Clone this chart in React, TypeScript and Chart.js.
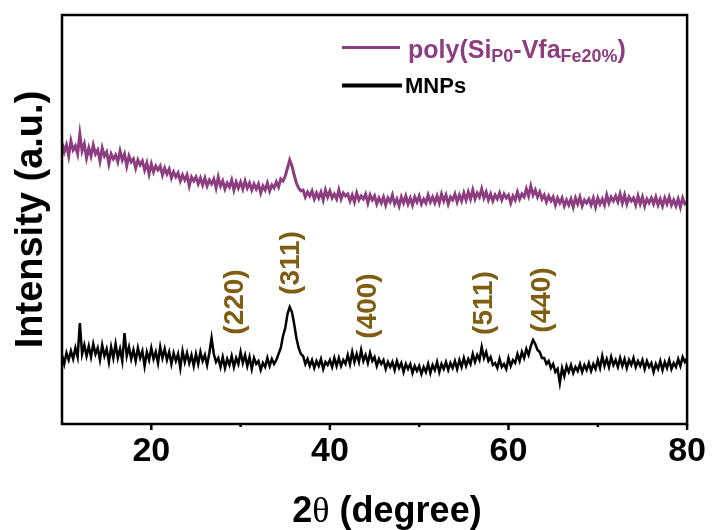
import React, { useEffect, useRef } from "react";
import { Chart, registerables } from "chart.js";

Chart.register(...registerables);

// 2θ sampling of both scans (degrees)
const TWO_THETA_START = 10;
const TWO_THETA_STEP = 0.25;

// poly(SiP0-VfaFe20%) intensity, one row per degree (10.00, 10.25, 10.50, 10.75)
const polyIntensity = [
  281, 272, 279, 268, // 10
  283, 274, 278, 270, // 11
  290, 273, 280, 266, // 12
  276, 268, 279, 270, // 13
  274, 263, 276, 268, // 14
  272, 260, 270, 265, // 15
  269, 262, 273, 264, // 16
  270, 258, 268, 262, // 17
  265, 256, 264, 259, // 18
  263, 254, 261, 250, // 19
  260, 252, 258, 254, // 20
  258, 249, 256, 250, // 21
  255, 246, 252, 247, // 22
  251, 243, 249, 244, // 23
  249, 238, 247, 243, // 24
  247, 240, 246, 239, // 25
  246, 238, 244, 240, // 26
  245, 236, 247, 238, // 27
  243, 235, 241, 237, // 28
  244, 234, 242, 236, // 29
  242, 235, 243, 236, // 30
  241, 234, 240, 235, // 31
  240, 231, 238, 234, // 32
  241, 233, 239, 236, // 33
  242, 237, 245, 243, // 34
  248, 256, 264, 258, // 35
  249, 241, 236, 233, // 36
  234, 227, 232, 228, // 37
  233, 225, 231, 226, // 38
  232, 224, 234, 227, // 39
  233, 226, 230, 225, // 40
  234, 225, 231, 228, // 41
  230, 223, 229, 222, // 42
  231, 224, 228, 225, // 43
  230, 221, 229, 224, // 44
  228, 220, 226, 221, // 45
  227, 219, 226, 222, // 46
  229, 220, 225, 218, // 47
  227, 221, 228, 220, // 48
  226, 219, 227, 222, // 49
  228, 220, 225, 221, // 50
  229, 222, 227, 221, // 51
  228, 221, 230, 223, // 52
  229, 220, 227, 224, // 53
  230, 222, 229, 223, // 54
  231, 224, 232, 225, // 55
  234, 225, 231, 227, // 56
  235, 226, 232, 224, // 57
  230, 223, 229, 225, // 58
  231, 224, 230, 226, // 59
  229, 221, 228, 224, // 60
  232, 225, 230, 227, // 61
  235, 228, 238, 229, // 62
  234, 227, 232, 225, // 63
  229, 222, 228, 223, // 64
  227, 219, 226, 221, // 65
  226, 218, 224, 219, // 66
  225, 217, 226, 220, // 67
  227, 218, 224, 221, // 68
  225, 219, 226, 217, // 69
  226, 220, 225, 219, // 70
  229, 221, 227, 223, // 71
  228, 222, 230, 221, // 72
  229, 220, 227, 223, // 73
  226, 219, 228, 220, // 74
  227, 218, 225, 221, // 75
  226, 220, 227, 219, // 76
  225, 218, 226, 220, // 77
  227, 219, 224, 218, // 78
  225, 217, 226, 220, // 79
  222,                // 80
];

// MNPs intensity on the same 2θ grid
const mnpIntensity = [
  69, 60, 71, 64,     // 10
  73, 65, 76, 67,     // 11
  101, 70, 79, 68,    // 12
  78, 67, 80, 70,     // 13
  76, 64, 79, 68,     // 14
  75, 62, 77, 66,     // 15
  80, 66, 75, 63,     // 16
  91, 68, 77, 65,     // 17
  74, 63, 76, 66,     // 18
  73, 58, 72, 64,     // 19
  76, 65, 72, 61,     // 20
  77, 66, 75, 64,     // 21
  72, 60, 71, 63,     // 22
  70, 56, 73, 62,     // 23
  71, 61, 69, 58,     // 24
  70, 60, 72, 63,     // 25
  69, 59, 71, 86,     // 26
  70, 62, 66, 57,     // 27
  67, 56, 65, 59,     // 28
  68, 57, 66, 60,     // 29
  72, 61, 69, 58,     // 30
  67, 55, 66, 60,     // 31
  63, 54, 61, 57,     // 32
  66, 58, 65, 60,     // 33
  64, 70, 76, 88,     // 34
  96, 110, 117, 112,  // 35
  100, 86, 76, 70,    // 36
  68, 60, 65, 58,     // 37
  64, 56, 63, 58,     // 38
  65, 55, 62, 59,     // 39
  64, 57, 66, 58,     // 40
  66, 58, 64, 60,     // 41
  69, 60, 72, 62,     // 42
  70, 62, 74, 63,     // 43
  69, 61, 71, 63,     // 44
  67, 58, 65, 60,     // 45
  64, 55, 62, 57,     // 46
  62, 54, 63, 56,     // 47
  61, 52, 60, 55,     // 48
  60, 51, 58, 53,     // 49
  58, 50, 57, 52,     // 50
  60, 51, 59, 54,     // 51
  62, 52, 60, 55,     // 52
  62, 54, 61, 56,     // 53
  63, 55, 64, 57,     // 54
  66, 58, 65, 60,     // 55
  70, 62, 69, 64,     // 56
  77, 66, 72, 63,     // 57
  67, 59, 61, 56,     // 58
  65, 57, 60, 55,     // 59
  66, 58, 64, 61,     // 60
  70, 63, 72, 66,     // 61
  75, 69, 78, 84,     // 62
  80, 74, 72, 66,     // 63
  66, 60, 63, 56,     // 64
  60, 52, 55, 41,     // 65
  56, 48, 58, 52,     // 66
  59, 51, 57, 53,     // 67
  60, 52, 59, 54,     // 68
  61, 53, 60, 55,     // 69
  64, 56, 68, 58,     // 70
  65, 57, 67, 59,     // 71
  64, 57, 66, 58,     // 72
  65, 56, 64, 59,     // 73
  66, 57, 63, 58,     // 74
  64, 55, 63, 57,     // 75
  61, 52, 60, 55,     // 76
  63, 54, 62, 56,     // 77
  64, 55, 61, 57,     // 78
  65, 58, 67, 62,     // 79
  66,                 // 80
];

// Axis ticks
const MAJOR_TICKS = [20, 40, 60, 80];
const MINOR_TICKS = [30, 50, 70];

// Spinel (hkl) reflections of the MNPs
const PLANES = ["(220)", "(311)", "(400)", "(511)", "(440)"];
const PLANE_2THETA = [29.45, 35.65, 44.3, 57.3, 63.8];
const PLANE_LABEL_Y = [122, 161, 118, 121, 124];

const PURPLE = "#8C3E80";
const GOLD = "#7F5E12";
const FONT = '"Liberation Sans", Arial, sans-serif';
const SERIF = '"Liberation Serif", "Times New Roman", serif';

const toPoints = (vals: number[]) =>
  vals.map((v, i) => ({ x: TWO_THETA_START + i * TWO_THETA_STEP, y: v }));

const decorPlugin = {
  id: "xrdDecor",
  afterDatasetsDraw(chart: any) {
    const { ctx, chartArea: a, scales } = chart;
    const xs = scales.x;
    const ys = scales.y;
    ctx.save();

    // frame
    ctx.strokeStyle = "#000";
    ctx.lineWidth = 2.5;
    ctx.strokeRect(a.left, a.top, a.right - a.left, a.bottom - a.top);

    // outward tick marks on the 2θ axis
    MAJOR_TICKS.forEach((t) => {
      const px = xs.getPixelForValue(t);
      ctx.beginPath();
      ctx.moveTo(px, a.bottom);
      ctx.lineTo(px, a.bottom + 6);
      ctx.stroke();
    });
    MINOR_TICKS.forEach((t) => {
      const px = xs.getPixelForValue(t);
      ctx.beginPath();
      ctx.moveTo(px, a.bottom);
      ctx.lineTo(px, a.bottom + 3);
      ctx.stroke();
    });

    // 2θ axis title
    const titleParts: [string, string][] = [
      ["2", `bold 36px ${FONT}`],
      ["θ", `36px ${SERIF}`],
      [" (degree)", `bold 36px ${FONT}`],
    ];
    let total = 0;
    titleParts.forEach(([t, f]) => {
      ctx.font = f;
      total += ctx.measureText(t).width;
    });
    let tx = 387 - total / 2;
    ctx.fillStyle = "#000";
    ctx.textAlign = "left";
    ctx.textBaseline = "alphabetic";
    titleParts.forEach(([t, f]) => {
      ctx.font = f;
      ctx.fillText(t, tx, 522);
      tx += ctx.measureText(t).width;
    });

    // (hkl) labels
    ctx.fillStyle = GOLD;
    ctx.font = `bold 28px ${FONT}`;
    ctx.textAlign = "center";
    ctx.textBaseline = "middle";
    PLANES.forEach((label, i) => {
      const px = xs.getPixelForValue(PLANE_2THETA[i]);
      const py = ys.getPixelForValue(PLANE_LABEL_Y[i]);
      ctx.save();
      ctx.translate(px, py);
      ctx.rotate(-Math.PI / 2);
      ctx.fillText(label, 0, 0);
      ctx.restore();
    });

    // legend
    ctx.textAlign = "left";
    ctx.textBaseline = "alphabetic";
    ctx.lineCap = "butt";
    ctx.strokeStyle = PURPLE;
    ctx.lineWidth = 3;
    ctx.beginPath();
    ctx.moveTo(342, 47.5);
    ctx.lineTo(400, 47.5);
    ctx.stroke();

    const parts: [string, boolean][] = [
      ["poly(Si", false],
      ["P0", true],
      ["-Vfa", false],
      ["Fe20%", true],
      [")", false],
    ];
    let lx = 408;
    ctx.fillStyle = PURPLE;
    parts.forEach(([t, sub]) => {
      ctx.font = sub ? `bold 18px ${FONT}` : `bold 25px ${FONT}`;
      ctx.fillText(t, lx, sub ? 62 : 58);
      lx += ctx.measureText(t).width;
    });

    ctx.strokeStyle = "#000";
    ctx.lineWidth = 4;
    ctx.beginPath();
    ctx.moveTo(342, 85.5);
    ctx.lineTo(402, 85.5);
    ctx.stroke();
    ctx.fillStyle = "#000";
    ctx.font = `bold 22px ${FONT}`;
    ctx.fillText("MNPs", 405, 93);

    ctx.restore();
  },
};

export default function App() {
  const canvasRef = useRef<HTMLCanvasElement | null>(null);

  useEffect(() => {
    const canvas = canvasRef.current;
    if (!canvas) return;
    const chart = new Chart(canvas, {
      type: "line",
      data: {
        datasets: [
          {
            label: "poly(SiP0-VfaFe20%)",
            data: toPoints(polyIntensity),
            borderColor: PURPLE,
            borderWidth: 3,
            pointRadius: 0,
            tension: 0,
          },
          {
            label: "MNPs",
            data: toPoints(mnpIntensity),
            borderColor: "#000",
            borderWidth: 2.5,
            pointRadius: 0,
            tension: 0,
          },
        ],
      },
      options: {
        animation: false,
        responsive: false,
        devicePixelRatio: 1,
        layout: { padding: { top: 15, right: 23, bottom: 0, left: 0 } },
        plugins: {
          legend: { display: false },
          tooltip: { enabled: false },
        },
        scales: {
          x: {
            type: "linear",
            min: 10,
            max: 80,
            grid: { display: false, drawTicks: false },
            border: { display: false },
            afterFit: (s: any) => {
              s.height = 106;
            },
            afterBuildTicks: (s: any) => {
              s.ticks = [10, 20, 30, 40, 50, 60, 70, 80].map((v) => ({ value: v }));
            },
            ticks: {
              autoSkip: false,
              maxRotation: 0,
              padding: 7,
              color: "#000",
              font: { family: FONT, size: 34, weight: "bold" },
              callback: (v: any) => (MAJOR_TICKS.includes(Number(v)) ? String(v) : ""),
            },
            title: { display: false },
          },
          y: {
            type: "linear",
            min: 0,
            max: 409,
            grid: { display: false, drawTicks: false },
            border: { display: false },
            ticks: { display: false },
            afterFit: (s: any) => {
              s.width = 62;
            },
            title: {
              display: true,
              text: "Intensity (a.u.)",
              color: "#000",
              font: { family: FONT, size: 38, weight: "bold" },
              padding: { top: 9, bottom: 0 },
            },
          },
        },
      },
      plugins: [decorPlugin],
    });
    return () => chart.destroy();
  }, []);

  return (
    <div style={{ position: "absolute", left: 0, top: 0, width: 713, height: 530, background: "#fff" }}>
      <canvas ref={canvasRef} width={713} height={530} style={{ display: "block" }} />
    </div>
  );
}
